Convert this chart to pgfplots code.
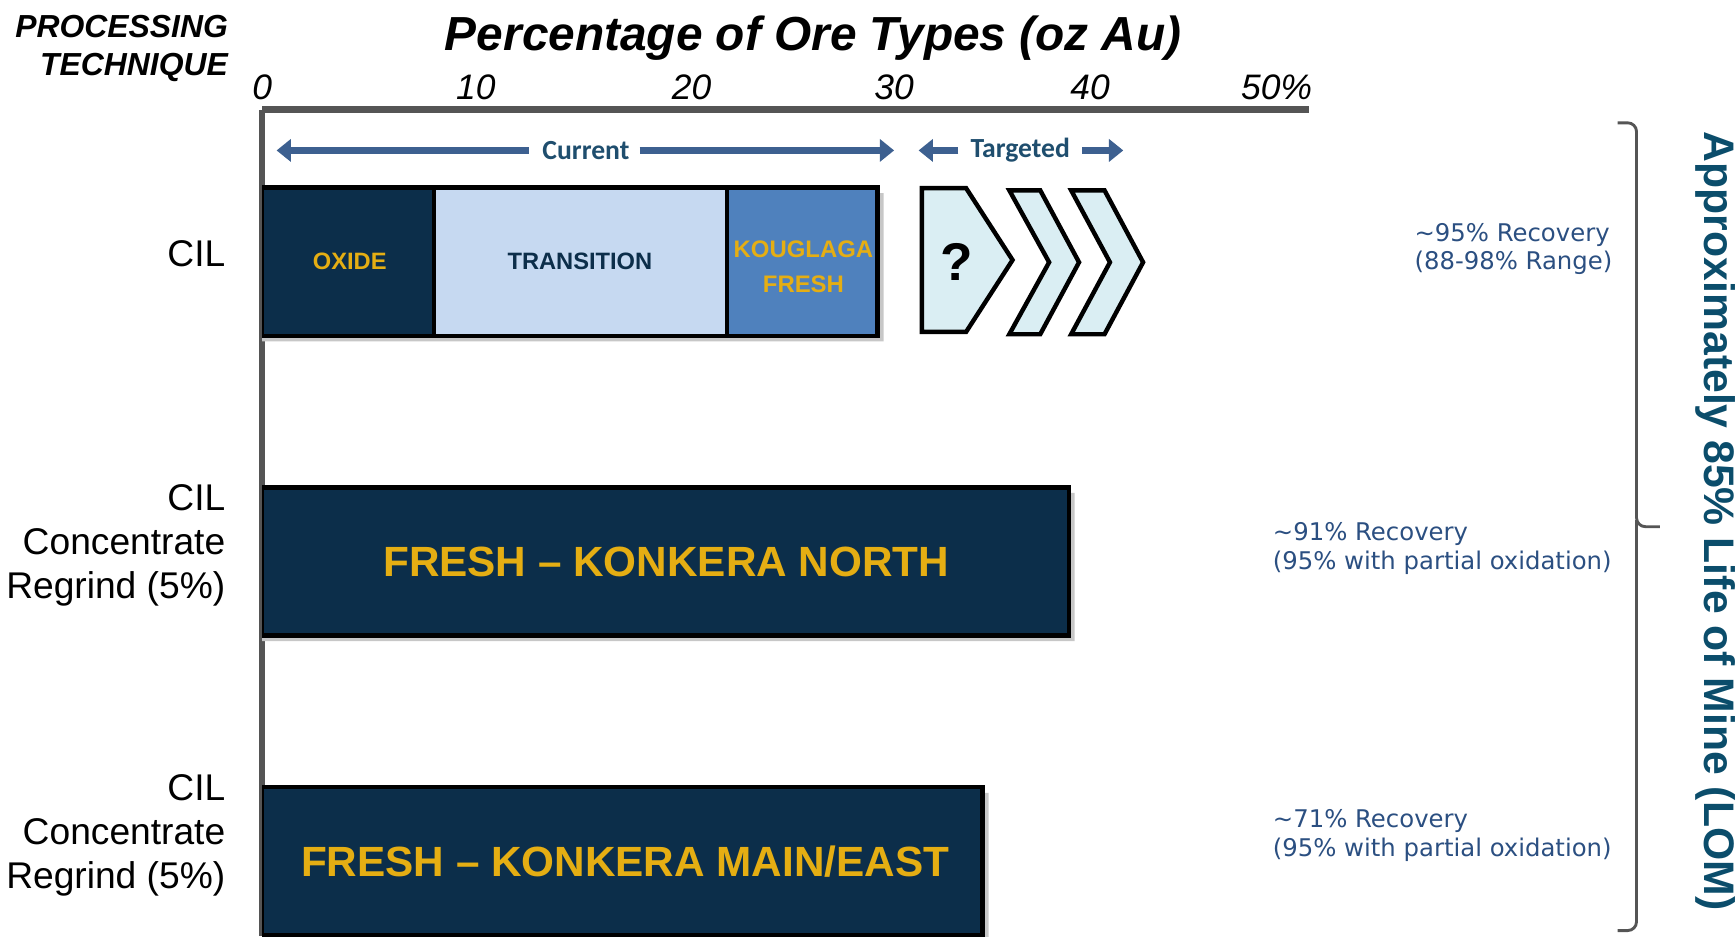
\documentclass[border=0pt]{standalone}
\usepackage{pgfplots}
\pgfplotsset{compat=1.18}
\usepackage{fontspec}
\setmainfont{Liberation Sans}
\newfontfamily\carlito{Carlito}
\newfontfamily\verd{DejaVu Sans}
\usetikzlibrary{arrows.meta}
\definecolor{navy}{HTML}{0C2E4A}
\definecolor{gold}{HTML}{E5AE13}
\definecolor{trans}{HTML}{C6D9F1}
\definecolor{kougl}{HTML}{4F81BD}
\definecolor{chev}{HTML}{DAEEF3}
\definecolor{axgray}{HTML}{555555}
\definecolor{arrowc}{HTML}{3D6090}
\definecolor{curtxt}{HTML}{1F4E6E}
\definecolor{recblue}{HTML}{2B4F81}
\definecolor{lomteal}{HTML}{0B4D6B}
\begin{document}
\begin{tikzpicture}[x=1pt,y=1pt]
\begin{axis}[
  at={(0,0)}, anchor=south west,
  scale only axis, width=473pt, height=373.5pt,
  xmin=0, xmax=51.8, ymin=0.7509, ymax=3.5074,
  axis x line*=top, axis y line*=left,
  x axis line style={line width=3pt, color=axgray, -},
  y axis line style={line width=2.5pt, color=axgray, -},
  xtick={0,10.57,21.25,31.27,40.97,50.2}, xticklabels={0,10,20,30,40,50\%},
  xticklabel style={font=\itshape\fontsize{16}{16}\selectfont, anchor=south, inner sep=0pt, yshift=4pt},
  ytick={3.028,2.054,1.087},
  yticklabels={CIL,{CIL\\Concentrate\\Regrind (5\%)},{CIL\\Concentrate\\Regrind (5\%)}},
  yticklabel style={font=\fontsize{16.8}{20}\selectfont, align=right, anchor=east, inner sep=0pt, xshift=-16.5pt},
  major tick length=0pt,
  xbar, bar shift=0pt, bar width=67pt,
  clip mode=individual,
]
% subtle drop shadows
\addplot[fill=black!22, draw=none, bar shift=-2.5pt] coordinates {(30.75,3) (40.2,2) (35.95,1)};
% CIL row drawn as cumulative overlays; other rows single bars
\addplot[fill=kougl, draw=black, line width=2pt] coordinates {(30.45,3)};
\addplot[fill=trans, draw=black, line width=2pt] coordinates {(23.0,3)};
\addplot[fill=navy, draw=black, line width=2pt] coordinates {(8.49,3) (39.92,2) (35.65,1)};
% targeted chevrons
\addplot[sharp plot, fill=chev, draw=black, line width=2pt, line join=miter] coordinates {(32.64,3.2454) (34.83,3.2454) (37.13,3.0055) (34.83,2.7657) (32.64,2.7657)} -- cycle;
\addplot[sharp plot, fill=chev, draw=black, line width=2pt, line join=miter] coordinates {(36.97,3.238) (38.50,3.238) (40.42,2.998) (38.50,2.758) (36.97,2.758) (38.94,2.998)} -- cycle;
\addplot[sharp plot, fill=chev, draw=black, line width=2pt, line join=miter] coordinates {(40.03,3.238) (41.68,3.238) (43.59,2.998) (41.68,2.758) (40.03,2.758) (41.95,2.998)} -- cycle;

\node[font=\bfseries\fontsize{10.7}{12}\selectfont, text=gold] at (axis cs:4.33,3) {OXIDE};
\node[font=\bfseries\fontsize{10.7}{12}\selectfont, text=navy] at (axis cs:15.72,3) {TRANSITION};
\node[font=\bfseries\fontsize{10.8}{16}\selectfont, text=gold, align=center] at (axis cs:26.78,2.983) {KOUGLAGA\\FRESH};
\node[font=\bfseries\fontsize{19.1}{20}\selectfont, text=gold] at (axis cs:19.99,2) {FRESH -- KONKERA NORTH};
\node[font=\bfseries\fontsize{19.1}{20}\selectfont, text=gold] at (axis cs:17.96,1) {FRESH -- KONKERA MAIN/EAST};
\node[font=\bfseries\fontsize{24}{24}\selectfont] at (axis cs:34.39,3.0) {?};

% Current / Targeted block arrows
\draw[arrowc, line width=3.5pt, -{Triangle[length=6.5pt,width=10pt]}] (axis cs:13.2,3.371) -- (axis cs:0.71,3.371);
\draw[arrowc, line width=3.5pt, -{Triangle[length=6.5pt,width=10pt]}] (axis cs:18.67,3.371) -- (axis cs:31.27,3.371);
\node[font=\carlito\bfseries\fontsize{12.5}{14}\selectfont, text=curtxt] at (axis cs:16.02,3.371) {Current};
\draw[arrowc, line width=3.5pt, -{Triangle[length=6.5pt,width=10pt]}] (axis cs:34.45,3.371) -- (axis cs:32.48,3.371);
\draw[arrowc, line width=3.5pt, -{Triangle[length=6.5pt,width=10pt]}] (axis cs:40.58,3.371) -- (axis cs:42.61,3.371);
\node[font=\carlito\bfseries\fontsize{12.5}{14}\selectfont, text=curtxt] at (axis cs:37.51,3.371) {Targeted};
\end{axis}

\begin{scope}[x=0.5pt, y=-0.5pt, shift={(-118.5pt,423pt)}]
\node[font=\bfseries\itshape\fontsize{14.4}{17}\selectfont, align=right, anchor=east] at (213,44) {PROCESSING\\TECHNIQUE};
\node[font=\bfseries\itshape\fontsize{21.6}{24}\selectfont, anchor=base] at (735,46) {Percentage of Ore Types (oz Au)};
\node[font=\verd\fontsize{11}{13}\selectfont, text=recblue, align=left, anchor=west, inner sep=0pt] at (1278,225) {\textasciitilde95\% Recovery\\(88-98\% Range)};
\node[font=\verd\fontsize{11}{13}\selectfont, text=recblue, align=left, anchor=west, inner sep=0pt] at (1150,496) {\textasciitilde91\% Recovery\\(95\% with partial oxidation)};
\node[font=\verd\fontsize{11}{13}\selectfont, text=recblue, align=left, anchor=west, inner sep=0pt] at (1150,755) {\textasciitilde71\% Recovery\\(95\% with partial oxidation)};
\draw[axgray, line width=1.3pt, rounded corners=4pt] (1462,111) -- (1479,111) -- (1479,476) -- (1500,476);
\draw[axgray, line width=1.3pt, rounded corners=4pt] (1479,470) -- (1479,841) -- (1462,841);
\node[rotate=-90, font=\bfseries\fontsize{19.3}{20}\selectfont, text=lomteal] at (1550,471) {Approximately 85\% Life of Mine (LOM)};
\end{scope}
\pgfresetboundingbox
\path (-118.5pt,0pt) rectangle (665.5pt,423pt);
\end{tikzpicture}
\end{document}
